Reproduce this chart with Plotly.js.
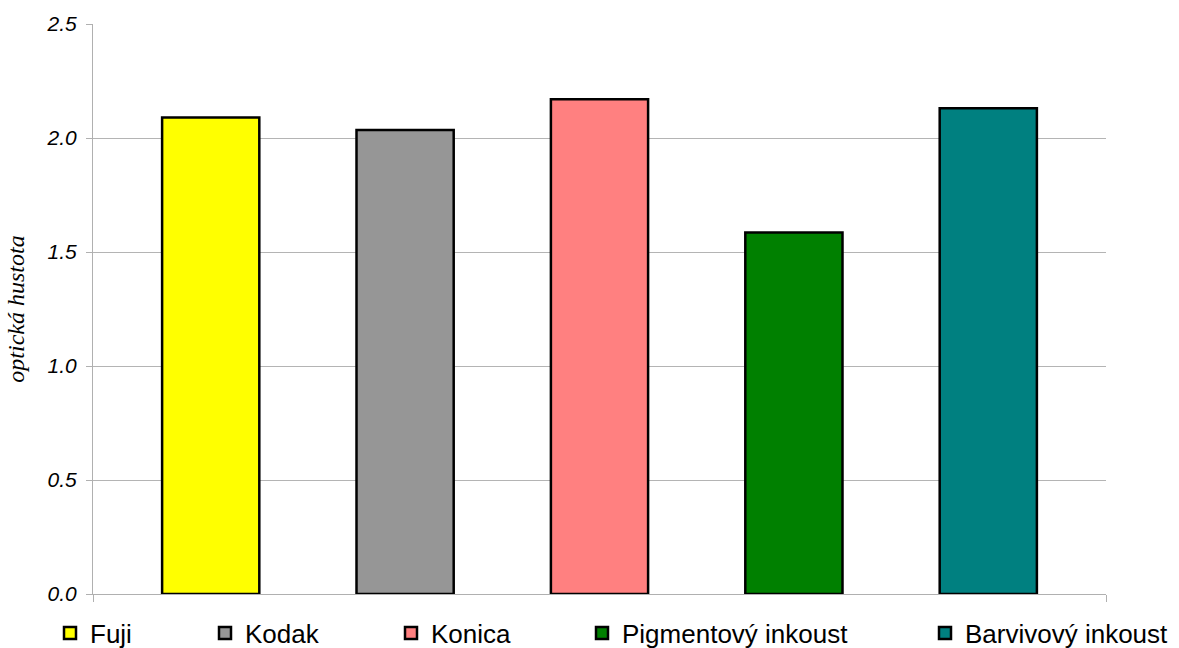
<!DOCTYPE html>
<html>
<head>
<meta charset="utf-8">
<script src="https://cdn.plot.ly/plotly-3.0.1.min.js"></script>
<style>html,body{margin:0;padding:0;background:#fff;}#chart{width:1179px;height:648px;}</style>
</head>
<body>
<div id="chart"></div>
<script>
// Data
const seriesNames = ["Fuji", "Kodak", "Konica", "Pigmentový inkoust", "Barvivový inkoust"];
const seriesValues = [2.09, 2.035, 2.17, 1.585, 2.13];
const seriesColors = ["#FFFF00", "#969696", "#FF8080", "#008000", "#008080"];
const yTickValues = [0, 0.5, 1.0, 1.5, 2.0, 2.5];
const yTitle = "optická hustota";

// legend text start positions (container px)
const legendTextX = [90, 245, 431, 622, 965];

const W = 1179, H = 648;
const traces = seriesNames.map((name, i) => ({
  type: 'bar',
  name: name,
  x: [i],
  y: [seriesValues[i]],
  width: 0.5,
  marker: {color: seriesColors[i], line: {color: '#000', width: 2.5}},
  legend: i === 0 ? 'legend' : 'legend' + (i + 1),
  hoverinfo: 'y'
}));

const layout = {
  width: W, height: H,
  margin: {l: 93, r: 73, t: 24, b: 54},
  paper_bgcolor: '#fff', plot_bgcolor: '#fff',
  barmode: 'overlay',
  showlegend: true,
  xaxis: {
    range: [-0.6055, 4.6055],
    showgrid: false, zeroline: false,
    showline: true, linecolor: '#b0b0b0', linewidth: 1,
    tickmode: 'array', tickvals: [-0.6055, 4.6055],
    ticks: 'outside', ticklen: 7, tickcolor: '#b0b0b0', tickwidth: 1,
    showticklabels: false, fixedrange: true
  },
  yaxis: {
    range: [0, 2.5],
    tickmode: 'array', tickvals: yTickValues,
    tickformat: '.1f',
    showgrid: true, gridcolor: '#b4b4b4', gridwidth: 1,
    zeroline: false,
    showline: true, linecolor: '#b0b0b0', linewidth: 1,
    ticks: 'outside', ticklen: 6, tickcolor: '#b0b0b0', tickwidth: 1,
    ticklabelstandoff: 5,
    tickfont: {family: 'Liberation Sans, Arial, sans-serif', size: 21, color: '#000', style: 'italic'},
    title: {text: yTitle, font: {family: 'Liberation Serif, Times New Roman, serif', size: 24, color: '#000', style: 'italic'}, standoff: 15},
    fixedrange: true
  }
};

legendTextX.forEach((tx, i) => {
  const key = i === 0 ? 'legend' : 'legend' + (i + 1);
  layout[key] = {
    xref: 'container', yref: 'container',
    x: (tx - 40) / W, xanchor: 'left',
    y: 15 / H, yanchor: 'middle',
    orientation: 'h',
    bgcolor: 'rgba(0,0,0,0)', borderwidth: 0,
    font: {family: 'Liberation Sans, Arial, sans-serif', size: 26, color: '#000'}
  };
});

Plotly.newPlot('chart', traces, layout, {displayModeBar: false, staticPlot: true});
</script>
</body>
</html>
